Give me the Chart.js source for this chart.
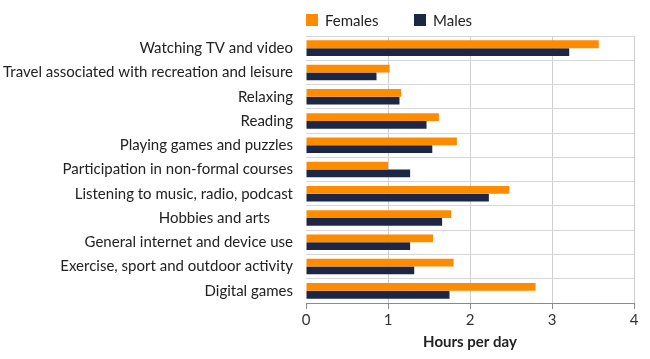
<!DOCTYPE html>
<html>
<head>
<meta charset="utf-8">
<script src="https://cdn.jsdelivr.net/npm/chart.js@4/dist/chart.umd.min.js"></script>
<style>
  html, body { margin: 0; padding: 0; background: #ffffff; }
  #wrap { width: 650px; height: 359px; position: relative; }
</style>
</head>
<body>
<div id="wrap"><canvas id="c" width="650" height="359"></canvas></div>
<script>
const categories = [
  "Watching TV and video",
  "Travel associated with recreation and leisure",
  "Relaxing",
  "Reading",
  "Playing games and puzzles",
  "Participation in non-formal courses",
  "Listening to music, radio, podcast",
  "Hobbies and arts      ",
  "General internet and device use",
  "Exercise, sport and outdoor activity",
  "Digital games"
];
const females = [3.57, 1.02, 1.16, 1.62, 1.84, 1.00, 2.48, 1.77, 1.55, 1.80, 2.80];
const males   = [3.21, 0.86, 1.14, 1.47, 1.54, 1.27, 2.23, 1.66, 1.27, 1.32, 1.75];
const xTicks  = [0, 1, 2, 3, 4];
const seriesNames = ["Females", "Males"];
const xTitle = "Hours per day";

const ORANGE = '#ff8c00';
const NAVY = '#1b2745';
const FONT = 'Lato, "Open Sans", sans-serif';

const legendPlugin = {
  id: 'customLegend',
  afterDraw(chart) {
    const ctx = chart.ctx;
    const left = chart.chartArea.left;
    const y = 20;
    const offsets = [0, 108];
    ctx.save();
    ctx.font = '15px ' + FONT;
    ctx.textBaseline = 'middle';
    ctx.textAlign = 'left';
    chart.data.datasets.forEach((ds, i) => {
      const x = left + offsets[i];
      ctx.fillStyle = ds.backgroundColor;
      ctx.fillRect(x, y - 6, 12, 12);
      ctx.fillStyle = '#222222';
      ctx.fillText(ds.label, x + 19, y + 1);
    });
    ctx.restore();
  }
};

new Chart(document.getElementById('c'), {
  type: 'bar',
  data: {
    labels: categories,
    datasets: [
      { label: seriesNames[0], data: females, backgroundColor: ORANGE },
      { label: seriesNames[1], data: males, backgroundColor: NAVY }
    ]
  },
  options: {
    indexAxis: 'y',
    responsive: false,
    animation: false,
    devicePixelRatio: 1,
    categoryPercentage: 0.64,
    barPercentage: 1.0,
    layout: { padding: { top: 36, right: 16, bottom: 8, left: 0 } },
    plugins: {
      legend: { display: false },
      tooltip: { enabled: false }
    },
    scales: {
      x: {
        min: 0, max: 4,
        afterBuildTicks(scale) { scale.ticks = xTicks.map(v => ({ value: v })); },
        ticks: { color: '#333333', font: { family: FONT, size: 15 }, padding: 2 },
        grid: {
          color: ctx => ctx.index === 0 ? 'rgba(0,0,0,0)' : '#cfcfcf',
          tickColor: '#8a8a8a',
          tickLength: 6,
          drawTicks: true
        },
        border: { display: true, color: '#8a8a8a' },
        title: {
          display: true, text: xTitle, color: '#222222',
          font: { family: FONT, size: 15, weight: 'bold' }, padding: { top: 2, bottom: 0 }
        }
      },
      y: {
        afterFit(scale) { scale.width = 306; },
        ticks: { color: '#222222', font: { family: FONT, size: 15 }, padding: 13, autoSkip: false },
        grid: { color: '#d6d6d6', drawTicks: false, offset: true },
        border: { display: false }
      }
    }
  },
  plugins: [legendPlugin]
});
</script>
</body>
</html>
